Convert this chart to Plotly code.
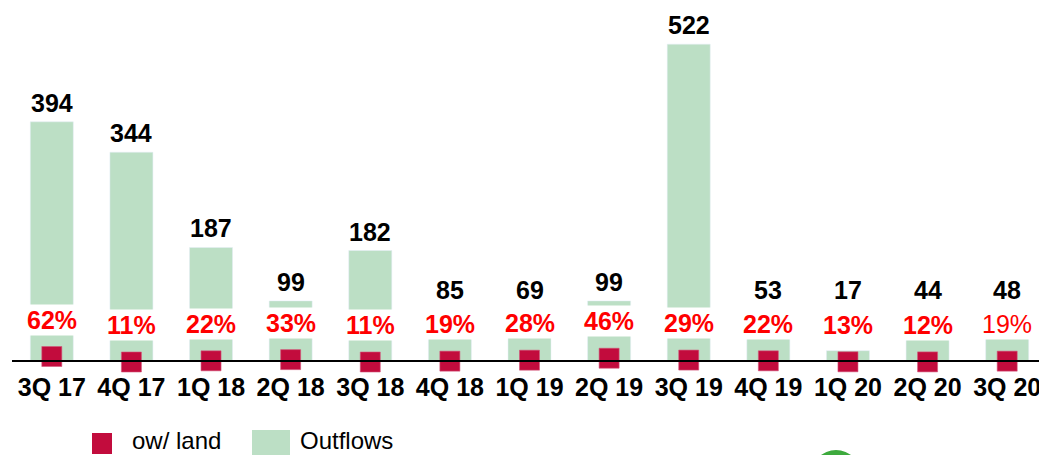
import plotly.graph_objects as go

quarters = ["3Q 17", "4Q 17", "1Q 18", "2Q 18", "3Q 18", "4Q 18", "1Q 19",
            "2Q 19", "3Q 19", "4Q 19", "1Q 20", "2Q 20", "3Q 20"]
outflows = [394, 344, 187, 99, 182, 85, 69, 99, 522, 53, 17, 44, 48]
ow_land_pct = [62, 11, 22, 33, 11, 19, 28, 46, 29, 22, 13, 12, 19]
pct_bold = [True] * 12 + [False]

GREEN = "#BCDFC5"
RED_MARK = "#C20C3D"
RED_TEXT = "#FF0000"
FONT = "Liberation Sans, Arial, sans-serif"

OFF = 8  # page body margin
W, H = 1047 - OFF, 455 - OFF
# plot area in page pixels: x 12..1047, y 10..372 ; axis line at 361
P_LEFT, P_TOP, P_BOTTOM, AXIS_Y = 12, 10, 372, 361
ML, MR, MT = P_LEFT - OFF, 0, P_TOP - OFF
MB = H - (P_BOTTOM - OFF)
PW, PH = W - ML - MR, H - MT - MB

Y_PX = 0.607     # px per outflow unit
Y2_PX = 0.108    # px per percent
Y2_ZERO = 363.2  # page px of 0 %

y_range = [-(P_BOTTOM - AXIS_Y) / Y_PX, (AXIS_Y - P_TOP) / Y_PX]
y2_range = [-(P_BOTTOM - Y2_ZERO) / Y2_PX, (Y2_ZERO - P_TOP) / Y2_PX]

fig = go.Figure()
fig.add_trace(go.Bar(
    x=quarters, y=outflows, name="Outflows", marker_color=GREEN,
    width=0.54, hoverinfo="x+y", showlegend=False,
))
fig.add_trace(go.Scatter(
    x=quarters, y=ow_land_pct, name="ow/ land", yaxis="y2", mode="markers",
    marker=dict(symbol="square", size=20, color=RED_MARK,
                line=dict(color="#D4557A", width=0.6)),
    cliponaxis=False, showlegend=False,
))

annotations = []
LABEL_MIN = 86
for q, v in zip(quarters, outflows):
    annotations.append(dict(
        x=q, y=max(v, LABEL_MIN), xref="x", yref="y", text=f"<b>{v}</b>",
        showarrow=False, yanchor="bottom", yshift=3,
        font=dict(family=FONT, size=25, color="black"),
    ))
for q, p, b in zip(quarters, ow_land_pct, pct_bold):
    t = f"{p}%"
    annotations.append(dict(
        x=q, y=p, xref="x", yref="y2", text=f"<b>{t}</b>" if b else t,
        showarrow=False, yanchor="middle", yshift=37,
        bgcolor="white", borderpad=1,
        font=dict(family=FONT, size=25, color=RED_TEXT),
    ))


def px_x(px):
    return (px - P_LEFT) / PW


def px_y(py):
    return (P_BOTTOM - py) / PH


# manual legend
shapes = [
    dict(type="rect", xref="paper", yref="paper", x0=px_x(92), x1=px_x(112),
         y0=px_y(454), y1=px_y(433), fillcolor=RED_MARK, line=dict(width=0)),
    dict(type="rect", xref="paper", yref="paper", x0=px_x(252), x1=px_x(290),
         y0=px_y(460), y1=px_y(430), fillcolor=GREEN, line=dict(width=0)),
    dict(type="circle", xref="paper", yref="paper", x0=px_x(811), x1=px_x(861),
         y0=px_y(500), y1=px_y(450), fillcolor="#3DAA3D", line=dict(width=0)),
]
annotations.append(dict(
    x=px_x(130), y=px_y(441), xref="paper", yref="paper", text="ow/ land",
    showarrow=False, xanchor="left", yanchor="middle",
    font=dict(family=FONT, size=24, color="black"),
))
annotations.append(dict(
    x=px_x(298), y=px_y(441), xref="paper", yref="paper", text="Outflows",
    showarrow=False, xanchor="left", yanchor="middle",
    font=dict(family=FONT, size=24, color="black"),
))

fig.update_layout(
    width=W, height=H,
    margin=dict(l=ML, r=MR, t=MT, b=MB),
    plot_bgcolor="white", paper_bgcolor="white",
    xaxis=dict(showline=True, linecolor="black", linewidth=1.5,
               anchor="free", position=(P_BOTTOM - AXIS_Y) / PH,
               showgrid=False, ticks="", range=[-0.5, 12.5],
               ticklabelstandoff=4,
               tickfont=dict(family=FONT, size=25, color="black", weight="bold")),
    yaxis=dict(range=y_range, visible=False, showgrid=False, zeroline=False),
    yaxis2=dict(range=y2_range, overlaying="y", visible=False,
                showgrid=False, zeroline=False),
    annotations=annotations, shapes=shapes,
    showlegend=False,
)

fig.write_html("out.html")
